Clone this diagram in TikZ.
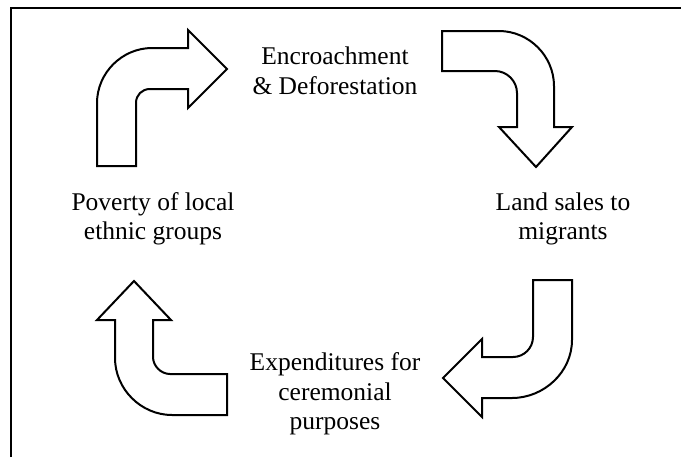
\documentclass[tikz,border=0pt]{standalone}
\usepackage{fontspec}
\setmainfont{Liberation Serif}
\tikzset{
  bentarrow/.style={draw,line width=1pt,fill=white,line join=miter},
  cyclelabel/.style={align=center,inner sep=0pt,font=\fontsize{12.75}{14.75}\selectfont},
}
\begin{document}
\begin{tikzpicture}[x={(0.5pt,0)},y={(0,-0.5pt)}]
\useasboundingbox(0,0)rectangle(681,457);
\draw[line width=1pt](11,457)--(11,7.5)--(681,7.5);
\draw[bentarrow](97,166)--(97,103)..controls(97,73)and(122,48)..(152,48)--(188,48)--(188,30)--(227,69)--(188,108)--(188,89)--(150,89)..controls(142,89)and(136,95)..(136,103)--(136,166)--cycle;
\draw[bentarrow](442,31)--(499,31)..controls(529,31)and(554,56)..(554,86)--(554,127)--(572,127)--(536,167)--(499,127)--(517,127)--(517,93)..controls(517,81)and(507,71)..(495,71)--(442,71)--cycle;
\draw[bentarrow](533,280)--(572,280)--(572,340)..controls(572,372)and(544,398)..(512,398)--(482,398)--(482,417)--(443,378)--(482,339)--(482,357)--(513,357)..controls(524,357)and(533,348)..(533,337)--cycle;
\draw[bentarrow](134,281)--(171,320)--(153,320)--(153,357)..controls(153,366)and(161,374)..(170,374)--(227,374)--(227,415)--(172,415)..controls(141,415)and(115,389)..(115,358)--(115,320)--(97,320)--cycle;
\node[cyclelabel](enc)at(335,71){Encroachment\\\& Deforestation};
\node[cyclelabel](land)at(563,219){Land sales to\\migrants};
\node[cyclelabel](exp)at(335,394){Expenditures for\\ceremonial\\purposes};
\node[cyclelabel](pov)at(153,219){Poverty of local\\ethnic groups};
\end{tikzpicture}
\end{document}
